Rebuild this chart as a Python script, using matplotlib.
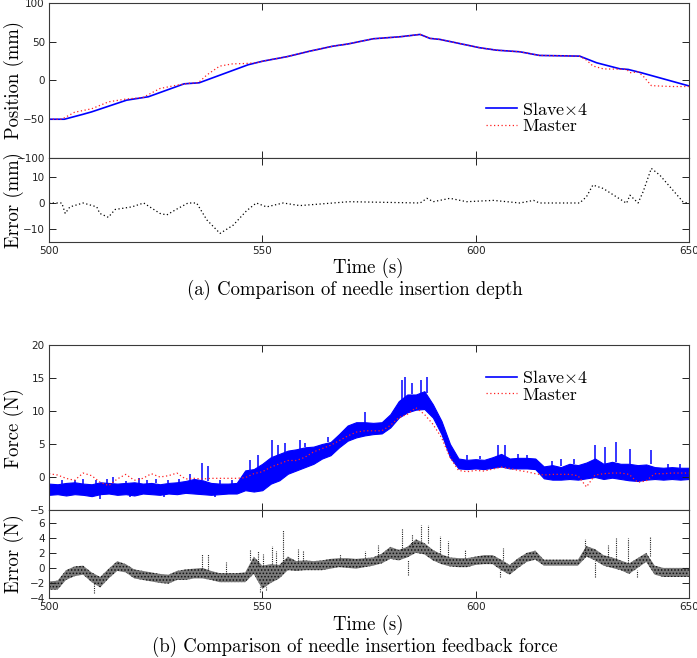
import matplotlib
matplotlib.use("Agg")
import matplotlib.pyplot as plt

plt.rcParams['mathtext.fontset'] = 'cm'
plt.rcParams['axes.unicode_minus'] = True
plt.rcParams['hatch.linewidth'] = 0.7

# (a) insertion depth, mm
t_pos_slave = [500, 503.6, 507.8, 510, 518.2, 523.3, 531.7, 535.2, 546.7, 550.2, 555.7, 561.2,
               566.6, 570, 576, 582.3, 587, 589.3, 591.6, 601, 604.9, 610.4, 615, 624.4, 628.4,
               633.8, 635.8, 638.9, 650]
pos_slave = [-50, -50, -43.9, -40.5, -25.4, -21, -4.3, -3, 20.3, 25, 30.6, 37.9,
             44.3, 47, 53.8, 56.4, 59.4, 54.3, 53, 42.2, 39.1, 37, 32.3, 31.4, 22.8,
             15.1, 14.2, 9.9, -7]
t_pos_master = [500, 503, 506, 510, 514, 518, 522, 526, 530, 533, 535, 537, 540, 543, 546,
                548.6, 550.2, 555.7, 561.2, 566.6, 570, 576, 582.3, 587, 589.3, 591.6, 601,
                604.9, 610.4, 615, 624.4, 626, 627.5, 630, 635.4, 636.2, 638.1, 639.3, 641.2,
                643.2, 646, 650]
pos_master = [-50, -50, -41, -36.5, -27.5, -24, -22, -10.4, -6, -3.5, -3, 7.1, 18.5, 21.4, 21.9,
              22.8, 25, 30.6, 37.9, 44.3, 47, 53.8, 56.4, 59.4, 54.3, 53, 42.2,
              39.1, 37, 32.3, 31.4, 26.3, 18.7, 14.9, 14.5, 10, 11, 5.6, -6.6,
              -7.2, -7.8, -7.8]
t_pos_err = [500, 503, 503.8, 504.9, 508, 511.2, 511.9, 513.9, 515.5, 519.4, 522.2, 526, 527.6,
             529.9, 532.6, 534.6, 537, 540.1, 543.2, 546.3, 548.6, 551, 554.9, 558.8, 566.6,
             570.3, 587, 588.6, 590.1, 594, 597.9, 604.2, 610.4, 613.6, 615, 624.4, 626,
             627.5, 629.9, 635.4, 636.2, 638.1, 639.3, 641.2, 643.2, 648.6, 650]
pos_err = [0, 0, -4, -1.5, 0, -1.5, -4, -5.5, -2.5, -1.5, 0, -4, -4.6,
           -2.4, 0, 0, -6.5, -11.7, -8.5, -3, 0, -1.5, 0, -1, 0,
           0.5, 0, 1.8, 0.5, 1.8, 0.5, 1, 0, 1, 0, 0, 2.4,
           6.9, 5.6, -0.1, 3, 0, 4.4, 13.3, 10.7, 0.5, -0.3]

# (b) feedback force, N: noise band (low / high edge every 2 s) plus spikes
t_band = list(range(500, 651, 2))
slave_lo = [
    -2.7, -2.6, -2.8, -2.6, -2.7, -2.9, -2.6, -2.5, -2.7, -2.6,
    -2.8, -2.5, -2.6, -2.7, -2.5, -2.6, -2.4, -2.5, -2.6, -2.7,
    -2.6, -2.5, -2.5, -2.0, -2.2, -2.0, -1.0, -0.5, 0.5, 1.0,
    1.5, 2.0, 2.8, 3.3, 4.5, 5.5, 6.0, 6.3, 6.5, 6.6,
    7.5, 9.0, 9.8, 10.2, 10.3, 9.0, 6.5, 3.0, 1.3, 1.2,
    1.3, 1.2, 1.4, 1.6, 1.3, 1.3, 1.3, 1.2, -0.2, -0.4,
    -0.4, -0.3, -0.4, -0.2, 0.0, -0.3, -0.1, -0.3, -0.5, -0.6,
    -0.4, -0.3, -0.4, -0.3, -0.4, -0.3]
slave_hi = [
    -1.0, -1.1, -0.9, -0.8, -1.0, -1.1, -0.8, -0.9, -1.0, -0.9,
    -0.8, -1.0, -0.9, -1.1, -0.9, -0.8, -0.6, -0.3, -0.5, -0.9,
    -1.0, -1.0, -0.9, 1.0, 1.2, 2.0, 3.0, 3.5, 4.0, 4.2,
    4.5, 4.6, 5.0, 5.3, 6.5, 7.8, 8.3, 8.3, 8.2, 8.3,
    9.5, 11.5, 12.5, 12.5, 13.0, 11.0, 8.5, 5.0, 2.8, 2.6,
    2.7, 2.6, 3.0, 3.5, 2.8, 2.9, 2.9, 2.8, 1.6, 1.8,
    1.5, 2.0, 1.8, 2.2, 2.8, 2.0, 2.3, 2.0, 2.0, 1.8,
    1.9, 1.5, 1.4, 1.5, 1.4, 1.4]
t_slave_spike = [503, 506, 508, 511, 513.5, 515, 518, 521, 523, 525, 528, 530.5, 533, 535.8,
                 537.3, 540, 543, 512, 519, 527, 539,
                 547.1, 549, 552.2, 553.7, 555.3, 558.8, 560, 565.5, 574, 582.7, 583.5, 585.1,
                 587.3, 588.5, 598, 601, 605.3, 607, 610, 612, 618, 620, 623,
                 627.9, 630.3, 633, 636.1, 641.2, 645, 648]
slave_spike_base = [-1.0, -0.9, -1.0, -1.0, -1.0, -0.9, -0.9, -1.0, -1.0, -0.9, -0.9, -0.9, -0.7, -0.5,
                    -0.6, -1.0, -1.0, -3.3, -3.1, -3.0, -3.1,
                    1.0, 1.5, 3.0, 3.2, 3.8, 4.2, 4.5, 5.3, 8.2, 11.5, 12.0, 12.5,
                    12.5, 12.8, 2.6, 2.7, 3.0, 3.2, 2.8, 2.8, 1.7, 1.6, 1.9,
                    2.5, 2.0, 2.3, 2.0, 1.9, 1.4, 1.4]
slave_spike_top = [-0.5, -0.4, -0.3, -0.5, -0.3, 0.0, -0.6, -0.2, -0.4, -0.3, -0.5, -0.3, 0.5, 2.1,
                   1.6, -0.4, -0.5, -2.6, -2.5, -2.5, -2.6,
                   2.6, 3.3, 5.6, 4.9, 5.1, 5.6, 5.1, 6.1, 9.9, 14.7, 15.2, 14.2,
                   14.7, 15.2, 3.3, 3.2, 4.8, 4.8, 3.5, 3.4, 2.5, 2.7, 2.8,
                   4.8, 4.6, 5.3, 4.3, 4.1, 2.0, 2.0]
force_master = [
    0.5, 0.3, -0.2, -0.5, 0.6, 0.2, -0.8, -1.3, -0.3, 0.4,
    -0.5, -0.2, 0.5, 0.0, 0.2, 0.6, -0.3, -0.2, -0.3, -0.2,
    -0.2, -0.2, -0.2, -0.1, 0.5, 0.8, 1.5, 2.0, 2.5, 2.5,
    3.0, 3.8, 4.3, 4.8, 5.5, 6.2, 6.8, 7.0, 7.0, 7.0,
    7.8, 9.0, 9.5, 10.5, 9.5, 8.0, 6.0, 3.0, 1.0, 0.8,
    1.0, 0.9, 1.2, 1.5, 1.3, 1.0, 0.8, 0.5, 0.3, 0.4,
    0.4, 0.4, 0.2, -1.5, 0.3, 0.5, 0.6, 0.6, 0.4, -0.8,
    -0.6, 0.5, 0.5, 0.6, 0.6, 0.6]
err_lo = [
    -2.9, -2.9, -1.6, -1.1, -0.9, -1.9, -2.6, -1.4, -0.4, -0.6,
    -1.4, -1.6, -1.8, -2.0, -2.1, -1.6, -1.6, -1.4, -1.4, -1.6,
    -1.9, -1.9, -1.9, -1.9, -0.8, -2.8, -2.0, -1.4, -0.3, -0.4,
    -0.3, -0.3, -0.3, -0.1, 0.1, 0.0, -0.1, 0.1, 0.3, 0.6,
    1.2, 1.0, 1.4, 2.0, 1.8, 1.0, 0.5, 0.2, 0.1, 0.1,
    0.4, 0.5, 0.5, -0.3, -0.9, 0.0, 0.8, 1.1, 0.3, 0.3,
    0.3, 0.3, 0.3, 1.5, 1.0, 0.3, 0.0, -0.3, -0.8, 0.0,
    0.8, -0.9, -1.2, -1.2, -1.2, -1.2]
err_hi = [
    -1.8, -1.7, -0.3, 0.2, 0.3, -0.6, -1.2, -0.1, 0.9, 0.5,
    -0.2, -0.4, -0.6, -0.8, -0.9, -0.4, -0.2, -0.1, 0.0, -0.4,
    -0.7, -0.7, -0.7, -0.6, 1.5, 0.3, 0.5, 0.4, 1.5, 0.9,
    1.0, 0.9, 1.0, 1.2, 1.3, 1.3, 1.2, 1.3, 1.4, 1.9,
    2.8, 2.4, 2.8, 3.8, 3.3, 2.4, 1.8, 1.4, 1.3, 1.3,
    1.5, 1.7, 1.7, 1.1, 0.4, 1.3, 2.0, 2.3, 1.1, 1.1,
    1.1, 1.1, 1.1, 2.9, 2.5, 1.7, 1.4, 1.0, 0.6, 1.3,
    2.0, 0.3, 0.0, 0.0, 0.0, 0.0]
t_err_spike = [535.8, 537.3, 541.6, 547.1, 549, 550.2, 552.2, 553.3, 554.9, 558.4, 559.6,
               568.2, 574, 577.2, 582.7, 585, 587.3, 588.9, 591.6, 593.6, 597.5, 606.5,
               625.6, 631.1, 633, 635.8, 640.9,
               510.5, 549.5, 550.8, 584.2, 605.7, 628, 637.9]
err_spike_base = [-0.2, -0.2, -0.8, 1.0, 0.3, 0.3, 0.5, 0.4, 0.4, 0.9, 0.9,
                  1.3, 1.3, 1.4, 2.4, 2.8, 3.6, 3.3, 1.8, 1.4, 1.3, 1.1,
                  1.5, 1.4, 1.2, 0.7, 1.6,
                  -3.3, -3.2, -3.0, -1.0, -1.2, -1.2, -1.2]
err_spike_top = [1.8, 1.8, 0.8, 2.5, 2.3, 1.8, 2.9, 2.3, 5.1, 2.5, 2.3,
                 1.8, 2.3, 3.1, 5.3, 4.5, 5.7, 5.7, 4.2, 3.6, 2.4, 2.7,
                 3.8, 3.1, 4.0, 4.0, 4.2,
                 -1.9, -2.6, -2.6, 1.0, -0.3, 0.9, -0.3]

SERIF = 'cmr10'
LBL = 13.5
spine_col = '#3a3a3a'
BLUE = '#0000ff'
RED = '#ff2020'


def style(ax, yticks, ylim, xlabels):
    ax.set_xlim(500, 650)
    ax.set_ylim(*ylim)
    ax.set_yticks(yticks)
    ax.set_xticks([500, 550, 600, 650])
    ax.tick_params(direction='in', top=True, right=True, length=5, width=0.7,
                   labelsize=7.5, colors='#222222', pad=3)
    if not xlabels:
        ax.tick_params(labelbottom=False)
    for s in ax.spines.values():
        s.set_color(spine_col)
        s.set_linewidth(0.8)
    ax.yaxis.set_label_coords(-0.039, 0.5)


def legend(ax, y):
    ax.legend(loc='upper left', bbox_to_anchor=(0.683, y), frameon=False,
              prop={'family': SERIF, 'size': 13}, handlelength=1.7, handletextpad=0.3,
              labelspacing=0.05, borderaxespad=0, borderpad=0)


fig = plt.figure(figsize=(6.97, 6.58), dpi=100)
L, W = 0.0703, 0.918

ax1 = fig.add_axes([L, 0.7599, W, 0.2356])
ax1.plot(t_pos_slave, pos_slave, color=BLUE, lw=1.2, label='Slave$\\times$4')
ax1.plot(t_pos_master, pos_master, color=RED, lw=0.9, ls=(0, (1, 2)), label='Master')
style(ax1, [-100, -50, 0, 50, 100], (-100, 100), False)
ax1.set_ylabel('Position (mm)', family=SERIF, fontsize=LBL)
legend(ax1, 0.37)

ax2 = fig.add_axes([L, 0.6322, W, 0.1277])
ax2.plot(t_pos_err, pos_err, color='k', lw=0.9, ls=(0, (1, 2)))
style(ax2, [-10, 0, 10], (-15, 17.3), True)
ax2.set_ylabel('Error (mm)', family=SERIF, fontsize=LBL)

fig.text(0.528, 0.593, 'Time (s)', family=SERIF, fontsize=LBL, ha='center', va='center')
fig.text(0.509, 0.559, '(a) Comparison of needle insertion depth', family=SERIF,
         fontsize=LBL, ha='center', va='center')

ax3 = fig.add_axes([L, 0.2249, W, 0.2508])
ax3.fill_between(t_band, slave_lo, slave_hi, color=BLUE, lw=0.8, edgecolor=BLUE)
ax3.vlines(t_slave_spike, slave_spike_base, slave_spike_top, color=BLUE, lw=1.1)
ax3.plot([], [], color=BLUE, lw=1.2, label='Slave$\\times$4')
ax3.plot(t_band, force_master, color=RED, lw=0.9, ls=(0, (1, 2)), label='Master')
style(ax3, [-5, 0, 5, 10, 15, 20], (-5, 20), False)
ax3.set_ylabel('Force (N)', family=SERIF, fontsize=LBL)
legend(ax3, 0.853)

ax4 = fig.add_axes([L, 0.0912, W, 0.1337])
ax4.fill_between(t_band, err_lo, err_hi, facecolor='#7a7a7a', edgecolor='#111111',
                 hatch='.....', lw=0)
ax4.vlines(t_err_spike, err_spike_base, err_spike_top, color='#202020', lw=0.8,
           linestyles=(0, (1, 1)))
style(ax4, [-4, -2, 0, 2, 4, 6], (-4, 7.7), True)
ax4.set_ylabel('Error (N)', family=SERIF, fontsize=LBL)

fig.text(0.528, 0.050, 'Time (s)', family=SERIF, fontsize=LBL, ha='center', va='center')
fig.text(0.509, 0.0167, '(b) Comparison of needle insertion feedback force', family=SERIF,
         fontsize=LBL, ha='center', va='center')

fig.savefig('out.png', dpi=100)
